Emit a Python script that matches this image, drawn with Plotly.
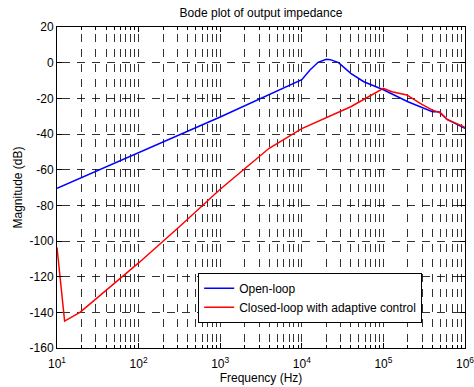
import plotly.graph_objects as go

# ---- data ----
freq_open = [10, 100, 1000, 10000, 12589, 15849, 19953, 22387, 28184, 39811,
             57544, 100000, 199526, 398107, 478630, 602560, 1000000]
mag_open = [-70.4, -50.4, -30.5, -9.5, -4.1, 0.2, 1.9, 1.7, 0.0, -6.0,
            -10.7, -15.2, -21.9, -27.5, -27.5, -31.8, -36.8]

freq_closed = [10, 12.4, 19.3, 100, 316, 1000, 1995, 3981, 10000, 19953, 39811,
               100000, 127000, 194000, 282000, 398000, 500000, 603000, 1000000]
mag_closed = [-103.7, -144.9, -139.9, -112.3, -92.0, -71.0, -59.5, -48.0, -37.0,
              -31.0, -24.7, -14.4, -16.3, -18.1, -22.8, -26.6, -28.1, -31.8, -36.3]

x_tick_vals = [10, 100, 1000, 10000, 100000, 1000000]
x_tick_text = ["10<sup>1</sup>", "10<sup>2</sup>", "10<sup>3</sup>",
               "10<sup>4</sup>", "10<sup>5</sup>", "10<sup>6</sup>"]
y_tick_vals = [20, 0, -20, -40, -60, -80, -100, -120, -140, -160]
y_tick_text = ["20", "0", "-20", "-40", "-60", "-80", "-100", "-120", "-140", "-160"]

minor_x = [m * d for d in x_tick_vals[:-1] for m in range(2, 10)]

FONT = "Liberation Sans, Arial, sans-serif"

fig = go.Figure()
fig.add_trace(go.Scatter(x=freq_open, y=mag_open, mode="lines", name="Open-loop",
                         line=dict(color="#0000ff", width=1.5)))
fig.add_trace(go.Scatter(x=freq_closed, y=mag_closed, mode="lines",
                         name="Closed-loop with adaptive control",
                         line=dict(color="#ff0000", width=1.5)))

grid_col = "rgba(0,0,0,0.8)"
fig.update_layout(
    width=474, height=387,
    margin=dict(l=57, r=9, t=27, b=39),
    paper_bgcolor="white", plot_bgcolor="white",
    font=dict(family=FONT, size=12, color="black"),
    title=dict(text="Bode plot of output impedance", x=0.5, xref="paper",
               xanchor="center", y=0.968, yanchor="middle",
               font=dict(size=12, family=FONT, color="black")),
    legend=dict(x=0.346, y=0.2346, xanchor="left", yanchor="top",
                bgcolor="white", bordercolor="black", borderwidth=1,
                font=dict(size=12, family=FONT, color="black"),
                tracegroupgap=0),
    xaxis=dict(type="log", range=[1, 6], automargin=False,
               tickmode="array", tickvals=x_tick_vals, ticktext=x_tick_text,
               showline=True, linecolor="black", linewidth=1, mirror="allticks",
               ticks="inside", ticklen=5, tickcolor="black",
               ticklabeloverflow="allow", ticklabelstandoff=5,
               showgrid=True, gridcolor=grid_col, gridwidth=1,
               griddash="0px,7px,8px,0px",
               minor=dict(tickmode="array", tickvals=minor_x, ticks="inside",
                          ticklen=3, tickcolor="black", showgrid=True,
                          gridcolor=grid_col, gridwidth=1,
                          griddash="0px,7px,8px,0px"),
               title=dict(text="Frequency (Hz)", standoff=0,
                          font=dict(size=12, family=FONT)),
               tickfont=dict(size=12, family=FONT),
               zeroline=False),
    yaxis=dict(range=[-160, 20], automargin=False,
               tickmode="array", tickvals=y_tick_vals, ticktext=y_tick_text,
               showline=True, linecolor="black", linewidth=1, mirror="allticks",
               ticks="inside", ticklen=5, tickcolor="black",
               showgrid=True, gridcolor=grid_col, gridwidth=1,
               griddash="0px,5px,8px,2px",
               zeroline=False,
               title=dict(text="Magnitude (dB)", standoff=4,
                          font=dict(size=12, family=FONT)),
               tickfont=dict(size=12, family=FONT)),
)

fig.write_html("out.html")
